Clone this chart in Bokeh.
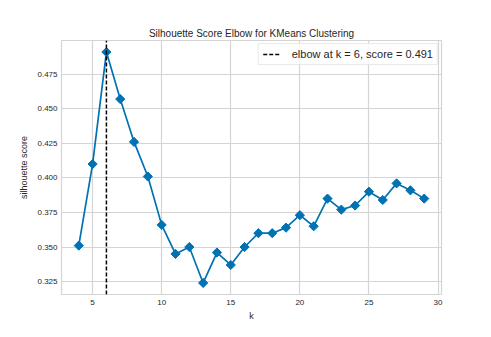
from bokeh.plotting import figure
from bokeh.models import FixedTicker, Legend, LegendItem, Range1d, CustomJSTickFormatter
from bokeh.embed import file_html
from bokeh.resources import INLINE

k_values = list(range(4, 30))
scores = [0.351, 0.410, 0.491, 0.457, 0.426, 0.401, 0.366, 0.345, 0.350, 0.324,
          0.346, 0.337, 0.350, 0.360, 0.360, 0.364, 0.373, 0.365, 0.385, 0.377,
          0.380, 0.390, 0.384, 0.396, 0.391, 0.385]
elbow_k = 6
elbow_score = 0.491
x_ticks = [5, 10, 15, 20, 25, 30]
y_ticks = [0.325, 0.350, 0.375, 0.400, 0.425, 0.450, 0.475]

FONT = "Liberation Sans"
TXT = "#262626"
GRID = "#d5d5d5"
BLUE = "#0072B2"

xr = (min(k_values), max(k_values))
yr = (min(scores), max(scores))
xpad = (xr[1] - xr[0]) * 0.05
ypad = (yr[1] - yr[0]) * 0.05
y_lo, y_hi = yr[0] - ypad, yr[1] + ypad

p = figure(frame_width=380, frame_height=254, output_backend="svg", toolbar_location=None,
           title="Silhouette Score Elbow for KMeans Clustering",
           x_range=Range1d(xr[0] - xpad, xr[1] + xpad),
           y_range=Range1d(y_lo, y_hi),
           min_border_left=61, min_border_right=50, min_border_top=40, min_border_bottom=43)

p.title.align = "center"
p.title.text_font = FONT
p.title.text_font_size = "10px"
p.title.text_font_style = "normal"
p.title.text_color = TXT
p.title.standoff = 4

p.outline_line_color = GRID
p.outline_line_width = 1.2
p.background_fill_color = "white"
p.border_fill_color = "white"

for ax in (p.xaxis[0], p.yaxis[0]):
    ax.axis_line_color = None
    ax.major_tick_line_color = None
    ax.minor_tick_line_color = None
    ax.major_tick_out = 0
    ax.major_tick_in = 0
    ax.major_label_text_font = FONT
    ax.major_label_text_font_size = "8px"
    ax.major_label_text_color = TXT
    ax.axis_label_text_font = FONT
    ax.axis_label_text_font_size = "9px"
    ax.axis_label_text_font_style = "normal"
    ax.axis_label_text_color = TXT

p.xaxis.ticker = FixedTicker(ticks=x_ticks)
p.yaxis.ticker = FixedTicker(ticks=y_ticks)
p.yaxis.formatter = CustomJSTickFormatter(code="return tick.toFixed(3)")
p.xaxis.axis_label = "k"
p.yaxis.axis_label = "silhouette score"
p.xaxis.major_label_standoff = 5
p.yaxis.major_label_standoff = 4
p.xaxis.axis_label_standoff = 3
p.yaxis.axis_label_standoff = 5

p.xgrid.ticker = FixedTicker(ticks=x_ticks)
p.ygrid.ticker = FixedTicker(ticks=y_ticks)
p.grid.grid_line_color = GRID
p.grid.grid_line_width = 1.2

p.line(k_values, scores, line_color=BLUE, line_width=1.7)
p.scatter(k_values, scores, marker="square", angle=0.785398, size=6.5,
          fill_color=BLUE, line_color=BLUE, line_width=1)

elbow_line = p.line([elbow_k, elbow_k], [y_lo, y_hi], line_color="black",
                    line_dash="4 2", line_width=1.5)

label = "elbow at k = %d, score = %.3f" % (elbow_k, elbow_score)
legend = Legend(items=[LegendItem(label=label, renderers=[elbow_line])],
                location="top_right")
legend.label_text_font = FONT
legend.label_text_font_size = "11px"
legend.label_text_color = TXT
legend.padding = 4
legend.margin = 3
legend.label_height = 12
legend.glyph_height = 12
legend.glyph_width = 18
legend.label_standoff = 11
legend.border_line_color = GRID
legend.border_line_width = 1
legend.background_fill_color = "white"
legend.background_fill_alpha = 0.8
p.add_layout(legend)

open("out.html", "w").write(file_html(p, INLINE))
